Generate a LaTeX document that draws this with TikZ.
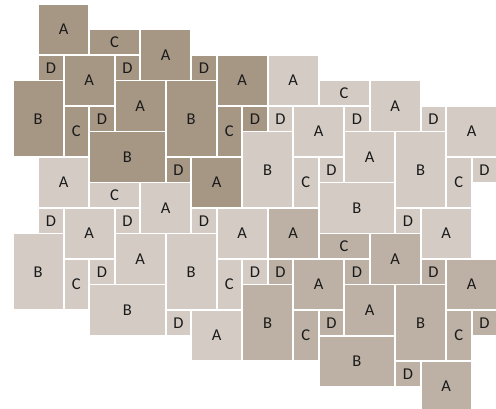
\documentclass[tikz,border=0pt]{standalone}
\usepackage{fontspec}
\setmainfont{Carlito}
\definecolor{darkstone}{HTML}{A69785}
\definecolor{midstone}{HTML}{BCB1A4}
\definecolor{lightstone}{HTML}{D4CCC4}
\definecolor{letter}{HTML}{1A1A1A}
\tikzset{
  tile/.style={anchor=north west, inner sep=0pt, outer sep=0pt, text=letter,
    font=\fontsize{16.5}{16.5}\selectfont, align=center}
}
% \tile{name}{letter}{i}{j}{w}{h}
\newcommand\tile[6]{%
  \node[tile, fill=\blockcolor,
        minimum width={25.5*#5-1.8}, minimum height={25.5*#6-1.8}]
    (\blockname#1) at ({13.5+25.5*(#3+\blockdi)},{5+25.5*(#4+\blockdj)}) {#2};}
\newcommand\pavingblock[4]{%
  \def\blockname{#1}\def\blockdi{#2}\def\blockdj{#3}\def\blockcolor{#4}%
  \tile{a1}{A}{1}{0}{2}{2}
  \tile{c1}{C}{3}{1}{2}{1}
  \tile{a2}{A}{5}{1}{2}{2}
  \tile{d1}{D}{1}{2}{1}{1}
  \tile{a3}{A}{2}{2}{2}{2}
  \tile{d2}{D}{4}{2}{1}{1}
  \tile{d3}{D}{7}{2}{1}{1}
  \tile{a4}{A}{8}{2}{2}{2}
  \tile{b1}{B}{0}{3}{2}{3}
  \tile{a5}{A}{4}{3}{2}{2}
  \tile{b2}{B}{6}{3}{2}{3}
  \tile{c2}{C}{2}{4}{1}{2}
  \tile{d4}{D}{3}{4}{1}{1}
  \tile{c3}{C}{8}{4}{1}{2}
  \tile{d5}{D}{9}{4}{1}{1}
  \tile{b3}{B}{3}{5}{3}{2}
  \tile{d6}{D}{6}{6}{1}{1}
  \tile{a6}{A}{7}{6}{2}{2}
}
\begin{document}
\begin{tikzpicture}[x=1pt,y=-1pt]
  \useasboundingbox (0,0) rectangle (496,409);
  \clip (0,0) rectangle (496,409);
  \pavingblock{p}{0}{0}{darkstone}
  \pavingblock{q}{9}{2}{lightstone}
  \pavingblock{r}{0}{6}{lightstone}
  \pavingblock{s}{9}{8}{midstone}
\end{tikzpicture}
\end{document}
